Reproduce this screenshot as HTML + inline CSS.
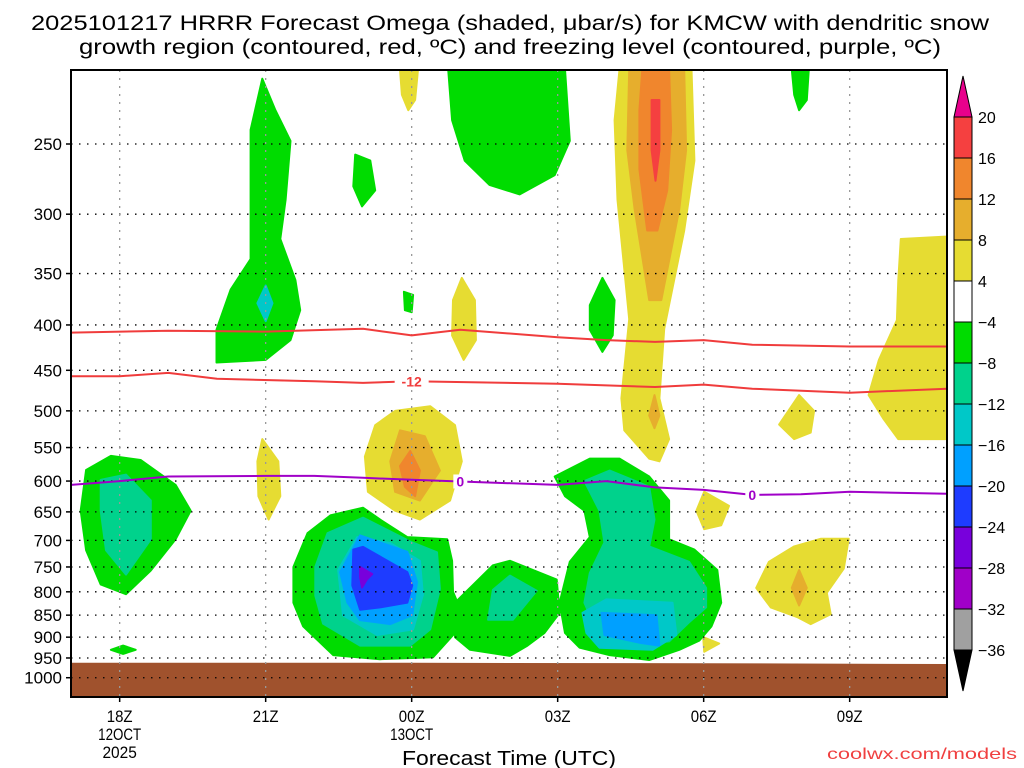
<!DOCTYPE html>
<html><head><meta charset="utf-8">
<style>
html,body{margin:0;padding:0;background:#fff;width:1024px;height:768px;overflow:hidden}
svg{display:block}
text{font-family:"Liberation Sans","DejaVu Sans",sans-serif;fill:#000}
</style></head>
<body>
<svg id="chart" width="1024" height="768" viewBox="0 0 1024 768" xmlns="http://www.w3.org/2000/svg">
<text x="510" y="30" text-anchor="middle" font-size="21" textLength="958" lengthAdjust="spacingAndGlyphs">2025101217 HRRR Forecast Omega (shaded, μbar/s) for KMCW with dendritic snow</text>
<text x="510" y="54" text-anchor="middle" font-size="21" textLength="862" lengthAdjust="spacingAndGlyphs">growth region (contoured, red, ºC) and freezing level (contoured, purple, ºC)</text>
<g id="plot"></g>
<g id="axes"></g>
<g id="cbar"></g>
<text x="509" y="765" text-anchor="middle" font-size="20" textLength="214" lengthAdjust="spacingAndGlyphs">Forecast Time (UTC)</text>
<text x="1017" y="759" text-anchor="end" font-size="16" fill="#f04040" style="fill:#f04040" textLength="190" lengthAdjust="spacingAndGlyphs">coolwx.com/models</text>
</svg>
<script>
// ---- data ----
const pressureTicks=[250,300,350,400,450,500,550,600,650,700,750,800,850,900,950,1000];
const timeTicks=[18,21,24,27,30,33];
const timeTickLabels=[["18Z","12OCT","2025"],["21Z"],["00Z","13OCT"],["03Z"],["06Z"],["09Z"]];
const cbarLevels=[20,16,12,8,4,-4,-8,-12,-16,-20,-24,-28,-32,-36];
const cbarColors=["#f54040","#f0862d","#e6ae2d","#e6dc32","#ffffff","#00dc00","#00d28c","#00c8c8","#00a0ff","#1e3cff","#7800dc","#a000c8","#a0a0a0"];
const dgzUpperTime=[17,19,21,23,24,25,27,28,29,30,31,33,35];
const dgzUpperP=[408,406,407,404,411,405,413,416,418,416,421,423,423];
const dgzLowerTime=[17,18,19,20,22,23,24,27,29,30,31,33,35];
const dgzLowerP=[457,457,453,460,463,465,463,466,470,467,472,477,472];
const frzTime=[17,18,19,21,22,23,24,27,28,29,30,31,32,33,35];
const frzP=[606,600,593,592,592,595,598,606,600,610,614,622,621,617,620];
const groundTime=[17,24,30,35];
const groundP=[962,962,963,965];
// omega regions: [colorIndex, [[hour,hPa],...]]
const omegaRegions=[
 [5,[[17.31,583],[17.82,562],[18.43,568],[19.15,606],[19.46,648],[19.15,698],[18.64,757],[18.13,805],[17.61,785],[17.31,718],[17.2,648]]],
 [6,[[17.61,598],[18.13,590],[18.64,631],[18.64,698],[18.13,765],[17.72,718],[17.61,648]]],
 [5,[[17.82,930],[18.07,920],[18.33,930],[18.07,940]]],
 [5,[[20.93,211],[21.2,229],[21.51,248],[21.41,289],[21.3,320],[21.61,356],[21.71,385],[21.51,416],[21,438],[19.99,441],[19.99,405],[20.28,365],[20.69,337],[20.69,289],[20.69,241]]],
 [7,[[21,361],[21.14,378],[21,396],[20.83,378]]],
 [3,[[20.93,538],[21.26,570],[21.3,624],[21.06,663],[20.85,624],[20.83,570]]],
 [5,[[22.84,257],[23.15,261],[23.25,282],[22.98,294],[22.8,279]]],
 [5,[[23.84,367],[24.03,370],[24.0,387],[23.86,385]]],
 [3,[[23.76,206],[24.13,206],[24.07,223],[23.93,229],[23.8,220]]],
 [5,[[24.75,206],[27.15,206],[27.25,248],[26.94,271],[26.22,285],[25.6,278],[25.09,261],[24.83,235]]],
 [3,[[25.03,354],[25.3,375],[25.32,416],[25.07,438],[24.83,411],[24.85,375]]],
 [5,[[27.92,354],[28.17,375],[28.13,411],[27.92,429],[27.66,405],[27.66,380]]],
 [5,[[31.81,206],[32.16,206],[32.12,223],[31.96,229],[31.86,220]]],
 [3,[[28.27,206],[29.75,206],[29.81,261],[29.6,313],[29.19,404],[29.09,484],[29.29,538],[29.09,570],[28.88,566],[28.37,526],[28.31,484],[28.47,394],[28.23,289],[28.17,235]]],
 [2,[[28.47,206],[29.6,206],[29.64,254],[29.5,296],[29.13,375],[28.88,375],[28.58,296],[28.43,254]]],
 [1,[[28.74,206],[29.29,206],[29.33,241],[29.25,282],[29.05,313],[28.84,313],[28.68,267],[28.68,229]]],
 [0,[[28.93,223],[29.09,223],[29.09,254],[29.01,275],[28.93,254]]],
 [2,[[28.99,480],[29.09,506],[28.99,523],[28.88,506]]],
 [3,[[34.05,320],[34.97,318],[34.97,538],[34.0,538],[33.7,511],[33.39,480],[33.6,438],[33.97,395],[34.0,356]]],
 [3,[[31.96,480],[32.27,500],[32.2,529],[31.86,538],[31.55,518]]],
 [3,[[30.01,617],[30.52,640],[30.36,673],[30.01,680],[29.85,648]]],
 [3,[[32.41,697],[32.98,697],[32.88,753],[32.53,802],[32.61,848],[32.2,870],[31.92,854],[31.38,833],[31.08,792],[31.34,740],[31.86,711]]],
 [2,[[31.96,756],[32.12,792],[31.96,829],[31.81,792]]],
 [3,[[29.99,900],[30.32,915],[30.01,935]]],
 [3,[[23.66,500],[24.38,494],[24.89,519],[25.03,570],[24.79,631],[24.17,663],[23.66,648],[23.1,617],[23.04,563],[23.25,519]]],
 [2,[[23.76,526],[24.27,534],[24.58,584],[24.17,631],[23.66,617],[23.56,570]]],
 [1,[[23.97,555],[24.17,584],[24.07,624],[23.86,609],[23.76,577]]],
 [5,[[21.57,750],[21.86,687],[22.33,656],[23.0,643],[23.35,663],[23.91,694],[24.73,698],[24.83,738],[24.85,800],[25.03,845],[24.89,890],[24.44,948],[23.35,953],[22.39,943],[21.77,875],[21.57,823]]],
 [5,[[24.89,823],[25.67,747],[26.02,738],[26.98,775],[27.04,845],[26.73,890],[26.38,920],[26.02,945],[25.2,930],[24.89,900]]],
 [6,[[25.67,796],[26.02,767],[26.57,798],[26.08,860],[25.57,860]]],
 [6,[[22.02,750],[22.27,687],[23.0,660],[23.97,702],[24.52,722],[24.58,794],[24.38,882],[23.97,920],[22.94,920],[22.18,869],[22.02,808]]],
 [7,[[22.49,756],[22.88,694],[23.56,705],[24.17,738],[24.23,806],[24.03,882],[23.29,895],[22.59,850]]],
 [8,[[22.53,760],[22.94,691],[23.91,721],[24.11,780],[24.01,850],[23.56,870],[22.94,861],[22.68,823]]],
 [9,[[22.8,717],[23.0,712],[23.91,760],[24.01,787],[23.91,823],[23.35,833],[22.94,838],[22.78,787]]],
 [10,[[22.94,750],[23.19,764],[23.07,776],[22.98,791],[22.94,770]]],
 [5,[[26.94,593],[27.66,566],[28.27,566],[28.88,593],[29.29,631],[29.29,698],[29.81,717],[30.28,756],[30.36,823],[30.16,875],[29.91,908],[29.5,930],[28.88,955],[28.07,943],[27.45,925],[27.15,890],[27.04,823],[27.25,740],[27.66,694],[27.55,648],[27.15,624]]],
 [6,[[27.55,600],[28.07,584],[28.88,609],[28.99,663],[28.88,711],[29.7,740],[30.05,792],[30.05,833],[29.7,866],[29.29,910],[28.27,920],[27.76,875],[27.55,823],[27.66,762],[27.96,704],[27.86,648]]],
 [7,[[27.51,845],[28.0,816],[29.36,823],[29.44,895],[28.95,930],[27.86,925],[27.59,890]]],
 [8,[[27.9,845],[29.03,850],[29.09,920],[28.68,913],[27.96,895]]]
];
// ---- axes functions ----
const X0=71,X1=947,Y0=70,Y1=697;
const T0=17.0,T1=35.0;
const xs=h=>X0+(h-T0)*(X1-X0)/(T1-T0);
const ys=p=>144+385*Math.log(p/250);
const NS="http://www.w3.org/2000/svg";
function mk(tag,attrs,parent){const e=document.createElementNS(NS,tag);for(const k in attrs)e.setAttribute(k,attrs[k]);parent.appendChild(e);return e;}
const plot=document.getElementById('plot');
const axes=document.getElementById('axes');
const cbar=document.getElementById('cbar');
const defs=mk('defs',{},plot);
const cp=mk('clipPath',{id:'clip'},defs);
mk('rect',{x:X0,y:Y0,width:X1-X0,height:Y1-Y0},cp);
const g=mk('g',{'clip-path':'url(#clip)'},plot);
omegaRegions.forEach((r,i)=>{
  const pts=r[1].map(q=>xs(q[0]).toFixed(1)+','+ys(q[1]).toFixed(1)).join(' ');
  const el=mk('polygon',{points:pts,fill:cbarColors[r[0]],stroke:cbarColors[r[0]],'stroke-width':2,'stroke-linejoin':'round'},g);
  
  
});
{
  let d='M'+xs(groundTime[0])+','+Y1;
  groundTime.forEach((t,i)=>{d+=' L'+xs(t)+','+ys(groundP[i]);});
  d+=' L'+xs(groundTime[groundTime.length-1])+','+Y1+' Z';
  const el=mk('path',{d:d,fill:'#a0522d'},g);
  
  
}
pressureTicks.forEach(p=>{
  const el=mk('line',{x1:X0,x2:X1,y1:ys(p),y2:ys(p),stroke:'#000','stroke-width':1.3,'stroke-dasharray':'1.5 6.5'},g);
  
  
});
timeTicks.forEach(t=>{
  const el=mk('line',{x1:xs(t),x2:xs(t),y1:Y0,y2:Y1,stroke:'#999','stroke-width':1.3,'stroke-dasharray':'2 6'},g);
  
  
});
function line(ts,ps,color,name){
  const d=ts.map((t,i)=>(i?'L':'M')+xs(t).toFixed(1)+','+ys(ps[i]).toFixed(1)).join(' ');
  const el=mk('path',{d:d,fill:'none',stroke:color,'stroke-width':2,'stroke-linejoin':'round'},g);
  
  
}
line(dgzUpperTime,dgzUpperP,'#f03c3c','dgz-contour-upper');
line(dgzLowerTime,dgzLowerP,'#f03c3c','dgz-contour-minus12');
line(frzTime,frzP,'#a000c8','freezing-level-contour');
function clabel(t,ts,ps,txt,color,name){
  let p=ps[0];for(let i=0;i<ts.length-1;i++){if(t>=ts[i]&&t<=ts[i+1]){p=ps[i]+(ps[i+1]-ps[i])*(t-ts[i])/(ts[i+1]-ts[i]);}}
  const x=xs(t),y=ys(p);
  const r=mk('rect',{x:x-txt.length*5-2,y:y-7,width:txt.length*10+4,height:14,fill:'#fff'},g);
  
  
  const el=mk('text',{x:x,y:y+5,'text-anchor':'middle','font-size':14,'font-weight':'bold',fill:color,style:'fill:'+color},g);
  el.textContent=txt;
  
  
}
clabel(24.0,dgzLowerTime,dgzLowerP,'-12','#f03c3c','label-minus12');
clabel(25.0,frzTime,frzP,'0','#a000c8','label-zero-1');
clabel(31.0,frzTime,frzP,'0','#a000c8','label-zero-2');
{const el=mk('rect',{x:X0,y:Y0,width:X1-X0,height:Y1-Y0,fill:'none',stroke:'#000','stroke-width':2},axes);
}
pressureTicks.forEach(p=>{
  const y=ys(p);
  mk('line',{x1:X0-5,x2:X0,y1:y,y2:y,stroke:'#000','stroke-width':1.5},axes);
  const el=mk('text',{x:X0-9,y:y+6,'text-anchor':'end','font-size':17},axes);
  el.textContent=p;
  
  
});
timeTicks.forEach((t,i)=>{
  const x=xs(t);
  mk('line',{x1:x,x2:x,y1:Y1,y2:Y1+5,stroke:'#000','stroke-width':1.5},axes);
  timeTickLabels[i].forEach((s,j)=>{
    const el=mk('text',{x:x,y:Y1+25+j*18,'text-anchor':'middle','font-size':17,textLength:s.length*8.6,lengthAdjust:'spacingAndGlyphs'},axes);
    el.textContent=s;
    
    
  });
});
const CB0=117,CBstep=(650-117)/13,CX=954,CW=18;
cbarColors.forEach((c,i)=>{
  const el=mk('rect',{x:CX,y:CB0+i*CBstep,width:CW,height:CBstep,fill:c,stroke:'#000','stroke-width':1},cbar);
  
  
});
{const el=mk('polygon',{points:`${CX},${CB0} ${CX+CW},${CB0} ${CX+CW/2},76`,fill:'#e8008c',stroke:'#000'},cbar);
}
{const el=mk('polygon',{points:`${CX},650 ${CX+CW},650 ${CX+CW/2},691`,fill:'#000',stroke:'#000'},cbar);
}
cbarLevels.forEach((v,i)=>{
  const el=mk('text',{x:978,y:CB0+i*CBstep+6,'font-size':16},cbar);
  el.textContent=v<0?'\u2212'+(-v):String(v);
  
  
});
</script>
</body></html>
